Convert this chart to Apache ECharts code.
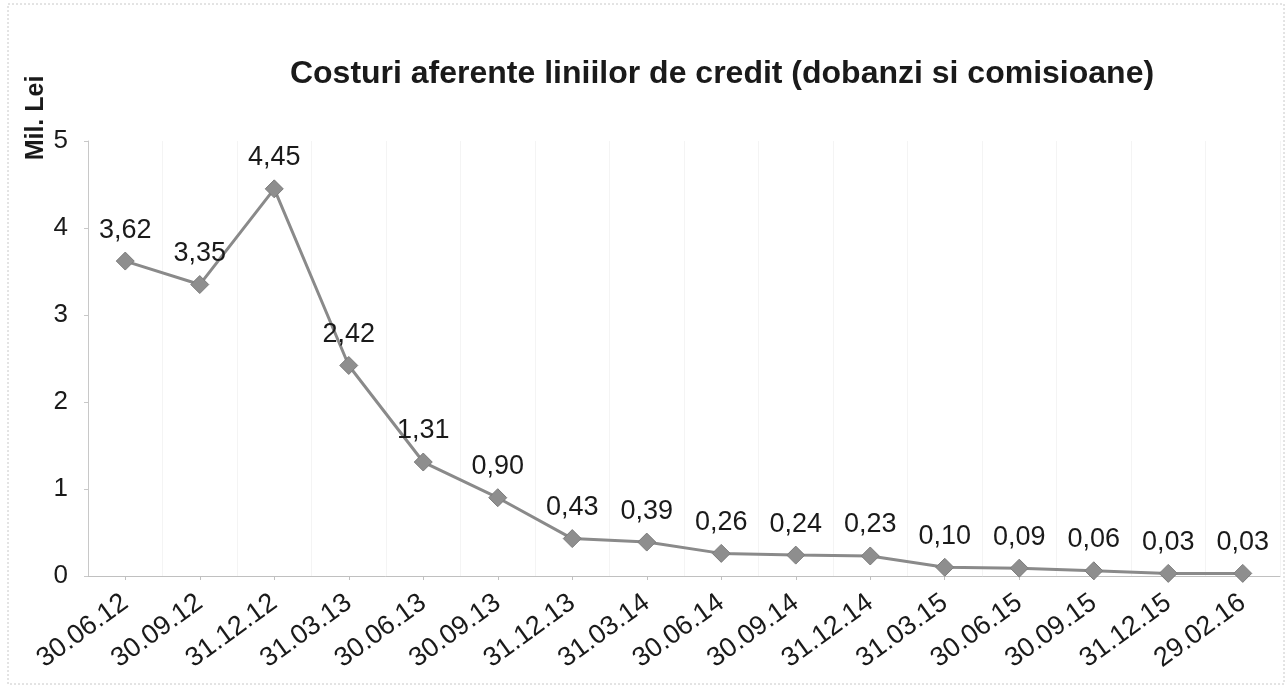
<!DOCTYPE html>
<html>
<head>
<meta charset="utf-8">
<script src="https://cdn.jsdelivr.net/npm/echarts@6/dist/echarts.min.js"></script>
<style>
html,body{margin:0;padding:0;background:#fff;}
#c{width:1288px;height:688px;}
</style>
</head>
<body>
<div id="c"></div>
<script>
const categories = ['30.06.12','30.09.12','31.12.12','31.03.13','30.06.13','30.09.13','31.12.13','31.03.14','30.06.14','30.09.14','31.12.14','31.03.15','30.06.15','30.09.15','31.12.15','29.02.16'];
const values = [3.62, 3.35, 4.45, 2.42, 1.31, 0.90, 0.43, 0.39, 0.26, 0.24, 0.23, 0.10, 0.09, 0.06, 0.03, 0.03];
const yTicks = [0, 1, 2, 3, 4, 5];
const titleText = 'Costuri aferente liniilor de credit (dobanzi si comisioane)';
const yName = 'Mil. Lei';

const chart = echarts.init(document.getElementById('c'));
const font = '"Liberation Sans", Arial, sans-serif';
chart.setOption({
  backgroundColor: '#ffffff',
  animation: false,
  title: {
    text: titleText,
    left: 717, top: 53, textAlign: 'center',
    textStyle: {fontFamily: font, fontSize: 32, fontWeight: 'bold', color: '#1a1a1a'}
  },
  graphic: [
    {type: 'rect', shape: {x: 8, y: 4, width: 1276, height: 680},
     style: {fill: 'none', stroke: '#c8c8c8', lineWidth: 1, lineDash: [2, 2]}, silent: true},
    {type: 'text', x: 36, y: 118, rotation: Math.PI / 2,
     style: {text: yName, fontFamily: font, fontSize: 25, fontWeight: 'bold', fill: '#1a1a1a', align: 'center', verticalAlign: 'middle'}}
  ],
  grid: {left: 88, right: 8, top: 141, bottom: 112, containLabel: false},
  xAxis: {
    type: 'category',
    data: categories,
    boundaryGap: true,
    axisLine: {lineStyle: {color: '#c0c0c0', width: 1}},
    axisTick: {show: true, alignWithLabel: true, length: 4, lineStyle: {color: '#c0c0c0'}},
    axisLabel: {rotate: 36, fontFamily: font, fontSize: 27, color: '#1a1a1a', margin: 24, interval: 0},
    splitLine: {show: true, interval: 0, lineStyle: {color: '#f4f4f4', width: 1}}
  },
  yAxis: {
    type: 'value',
    min: yTicks[0], max: yTicks[yTicks.length - 1], interval: 1,
    axisLine: {show: true, lineStyle: {color: '#c8c8c8'}},
    axisTick: {show: true, length: 4, lineStyle: {color: '#c8c8c8'}},
    axisLabel: {fontFamily: font, fontSize: 26, color: '#1a1a1a', margin: 20},
    splitLine: {show: false}
  },
  series: [{
    type: 'line',
    data: values,
    symbol: 'diamond',
    symbolSize: 18,
    itemStyle: {color: '#8e8e8e', borderColor: '#7c7c7c', borderWidth: 1},
    lineStyle: {color: '#8a8a8a', width: 3},
    label: {
      show: true, position: 'top', distance: 8,
      fontFamily: font, fontSize: 27, color: '#1a1a1a',
      formatter: p => p.value.toFixed(2).replace('.', ',')
    }
  }]
});
</script>
</body>
</html>
